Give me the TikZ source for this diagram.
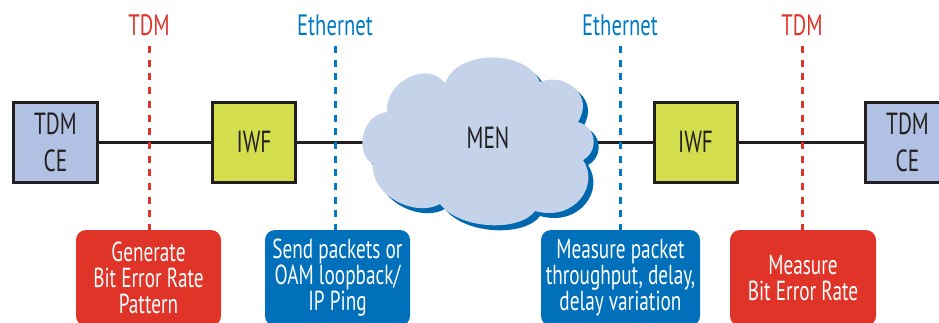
\documentclass[tikz,border=0pt]{standalone}
\usepackage{fontspec}
\setmainfont{PT Sans}[FakeStretch=0.70]
\usetikzlibrary{backgrounds}
\definecolor{tdmred}{RGB}{223,52,39}
\definecolor{boxblue}{RGB}{0,112,186}
\definecolor{ethblue}{RGB}{0,122,197}
\definecolor{darktext}{RGB}{35,31,32}
\definecolor{cefill}{RGB}{176,193,227}
\definecolor{iwffill}{RGB}{212,222,77}
\definecolor{cloudfill}{RGB}{196,211,234}
\definecolor{cloudshadow}{RGB}{0,104,175}
\tikzset{
  cebox/.style={draw=darktext, line width=3pt, fill=cefill, minimum width=84pt, minimum height=80pt,
    inner sep=0pt, align=center, text=darktext, font=\fontsize{30.5}{37}\selectfont},
  iwfbox/.style={draw=darktext, line width=3pt, fill=iwffill, minimum width=83pt, minimum height=80pt,
    inner sep=0pt, align=center, text=darktext, font=\fontsize{30.5}{37}\selectfont},
  lab/.style={anchor=base, inner sep=0pt, font=\fontsize{29.5}{29.5}\selectfont},
  infobox/.style={rounded corners=10pt, text=white, minimum height=96pt, inner sep=0pt,
    align=center, font=\fontsize{27.5}{26}\selectfont},
  mainline/.style={draw=darktext, line width=3pt},
  reddash/.style={draw=tdmred, line width=3pt, dash pattern=on 7pt off 6.7pt},
  bluedash/.style={draw=ethblue, line width=3pt, dash pattern=on 7pt off 6.7pt},
}
\begin{document}
\begin{tikzpicture}[x=1pt,y=-1pt]
\useasboundingbox (0,0) rectangle (939,322);
\clip (0,0) rectangle (939,322);
% boxes on the line
\node[cebox] (ce1) at (55.5,142) {TDM\\CE};
\node[cebox] (ce2) at (907.5,142) {TDM\\CE};
\node[iwfbox] (iwf1) at (254,142) {IWF};
\node[iwfbox] (iwf2) at (695.5,142) {IWF};
% main line behind
\begin{scope}[on background layer]
\draw[mainline] (ce1.east) -- (iwf1.west);
\draw[mainline] (iwf1.east) -- (iwf2.west);
\draw[mainline] (iwf2.east) -- (ce2.west);
\end{scope}
% cloud
\def\cloudpath{(387,112) .. controls (385,80) and (430,60) .. (445,84)
  .. controls (455,50) and (525,48) .. (540,82)
  .. controls (565,72) and (595,95) .. (578,122)
  .. controls (598,128) and (598,152) .. (583,160)
  .. controls (600,185) and (575,222) .. (535,211)
  .. controls (520,232) and (460,230) .. (440,204)
  .. controls (415,218) and (370,195) .. (373,164)
  .. controls (355,155) and (360,115) .. (387,112) -- cycle}
\fill[cloudshadow, shift={(5pt,-5pt)}] \cloudpath;
\fill[cloudfill] \cloudpath;
\node[text=darktext, font=\fontsize{30.5}{30.5}\selectfont] (men) at (488,138) {MEN};
% top labels
\node[lab, text=tdmred] (t1) at (149,35) {TDM};
\node[lab, text=ethblue] (e1) at (335,35) {Ethernet};
\node[lab, text=ethblue] (e2) at (620,35) {Ethernet};
\node[lab, text=tdmred] (t2) at (802,35) {TDM};
% bottom boxes
\node[infobox, fill=tdmred, minimum width=145pt] (b1) at (148.5,278) {Generate\\Bit Error Rate\\Pattern};
\node[infobox, fill=boxblue, minimum width=145pt] (b2) at (337.5,278) {Send packets or\\OAM loopback/\\IP Ping};
\node[infobox, fill=boxblue, minimum width=159pt] (b3) at (620.5,278) {Measure packet\\throughput, delay,\\delay variation};
\node[infobox, fill=tdmred, minimum width=146pt] (b4) at (803,278) {Measure\\Bit Error Rate};
% dashed markers
\draw[reddash] ([yshift=-11pt]t1.base) -- (t1.base |- b1.north);
\draw[bluedash] ([yshift=-11pt]e1.base) -- (e1.base |- b2.north);
\draw[bluedash] ([yshift=-11pt]e2.base) -- (e2.base |- b3.north);
\draw[reddash] ([yshift=-11pt]t2.base) -- (t2.base |- b4.north);
\end{tikzpicture}
\end{document}
